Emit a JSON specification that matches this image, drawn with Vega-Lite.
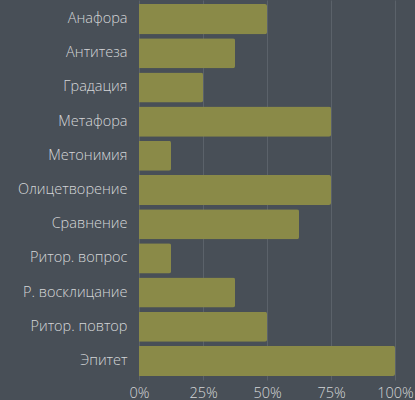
{
  "$schema": "https://vega.github.io/schema/vega-lite/v6.json",
  "width": 256,
  "height": 380,
  "autosize": {"type": "none"},
  "padding": {"left": 139, "top": 0, "right": 20, "bottom": 20},
  "background": "#484f57",
  "config": {
    "view": {"stroke": null},
    "font": "Open Sans",
    "axis": {"labelFont": "Open Sans", "labelFontSize": 14.5, "labelFontWeight": 300, "labelColor": "#d4d6d8", "domain": false, "ticks": false}
  },
  "data": {"values": [
    {"name": "Анафора", "value": 0.5},
    {"name": "Антитеза", "value": 0.375},
    {"name": "Градация", "value": 0.25},
    {"name": "Метафора", "value": 0.75},
    {"name": "Метонимия", "value": 0.125},
    {"name": "Олицетворение", "value": 0.75},
    {"name": "Сравнение", "value": 0.625},
    {"name": "Ритор. вопрос", "value": 0.125},
    {"name": "Р. восклицание", "value": 0.375},
    {"name": "Ритор. повтор", "value": 0.5},
    {"name": "Эпитет", "value": 1.0}
  ]},
  "mark": {"type": "bar", "color": "#8a8a48", "cornerRadiusEnd": 2},
  "encoding": {
    "y": {"field": "name", "type": "nominal", "sort": null, "title": null,
      "scale": {"paddingInner": 0.12, "paddingOuter": 0.12},
      "axis": {"grid": false, "labelPadding": 12}},
    "x": {"field": "value", "type": "quantitative", "title": null,
      "scale": {"domain": [0, 1], "nice": false},
      "axis": {"format": ".0%", "values": [0, 0.25, 0.5, 0.75, 1], "grid": true, "gridColor": "#5b626a", "labelPadding": 6, "labelFlush": false}}
  }
}
